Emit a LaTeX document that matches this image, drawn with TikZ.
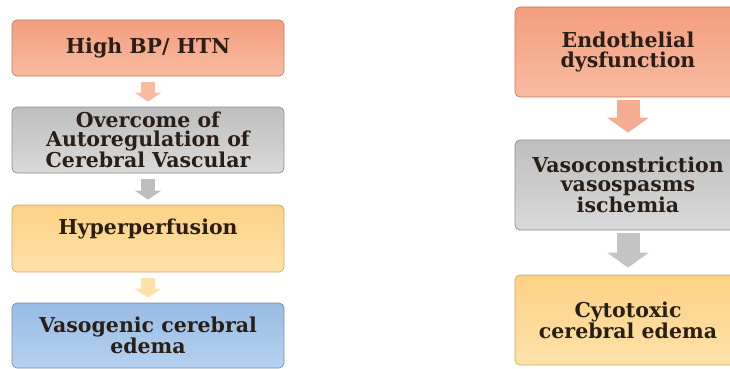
\documentclass[tikz,border=0pt]{standalone}
\usepackage{fontspec}
\setmainfont{DejaVu Serif}
\usetikzlibrary{arrows.meta}

\definecolor{salmonA}{HTML}{F39E7E}
\definecolor{salmonB}{HTML}{F8BBA0}
\definecolor{greyA}{HTML}{BEBEBE}
\definecolor{greyB}{HTML}{DADADA}
\definecolor{sandA}{HTML}{FCD184}
\definecolor{sandB}{HTML}{FFE2AA}
\definecolor{skyA}{HTML}{98BCE4}
\definecolor{skyB}{HTML}{B6D1EF}
\definecolor{inktext}{HTML}{2A1E16}

\tikzset{
	box/.style={rounded corners=5pt, line width=0.7pt, align=center, inner sep=1pt,
		text=inktext, font=\bfseries\fontsize{20.5}{19.5}\selectfont},
	salmonbox/.style={box, draw=salmonA!80!black, top color=salmonA, bottom color=salmonB},
	greybox/.style={box, draw=greyA!75!black, top color=greyA, bottom color=greyB},
	sandbox/.style={box, draw=sandA!80!black, top color=sandA, bottom color=sandB},
	skybox/.style={box, draw=skyA!75!black, top color=skyA, bottom color=skyB},
	leftcol/.style={minimum width=272pt},
	rightcol/.style={minimum width=226pt, minimum height=90pt},
	thinflow/.style={draw=#1, line width=14pt, shorten <=6pt, shorten >=5pt,
		-{Triangle[length=9pt, width=26pt]}},
	wideflow/.style={draw=#1, line width=23pt, shorten <=3pt, shorten >=7pt,
		-{Triangle[length=15pt, width=41pt]}}
}

\begin{document}
\begin{tikzpicture}[x=1pt, y=-1pt]
		\useasboundingbox[fill=white] (0, 0) rectangle (730, 369);
		
		%%%%% LEFT %%%%%
		\node[salmonbox, leftcol, minimum height=56pt] (htn) at (148, 48) {High BP/ HTN};
		\node[greybox, leftcol, minimum height=66pt] (autoreg) at (148, 140)
			{Overcome of\\Autoregulation of\\Cerebral Vascular};
		\node[sandbox, leftcol, minimum height=67pt, text depth=24pt] (hyper) at (148, 238.5)
			{Hyperperfusion};
		\node[skybox, leftcol, minimum height=65pt] (vaso) at (148, 335.5)
			{Vasogenic cerebral\\edema};
		
		\draw[thinflow=salmonB] (htn) -- (autoreg);
		\draw[thinflow=greyA] (autoreg) -- (hyper);
		\draw[thinflow=sandB] (hyper) -- (vaso);
		
		%%%%% RIGHT %%%%%
		\node[salmonbox, rightcol] (endo) at (628, 52) {Endothelial\\dysfunction};
		\node[greybox, rightcol] (spasm) at (628, 185)
			{Vasoconstriction\\vasospasms\\ischemia};
		\node[sandbox, rightcol] (cyto) at (628, 320) {Cytotoxic\\cerebral edema};
		
		\draw[wideflow=salmonA!85!white] (endo) -- (spasm);
		\draw[wideflow=greyB!90!black] (spasm) -- (cyto);
	\end{tikzpicture}
\end{document}
